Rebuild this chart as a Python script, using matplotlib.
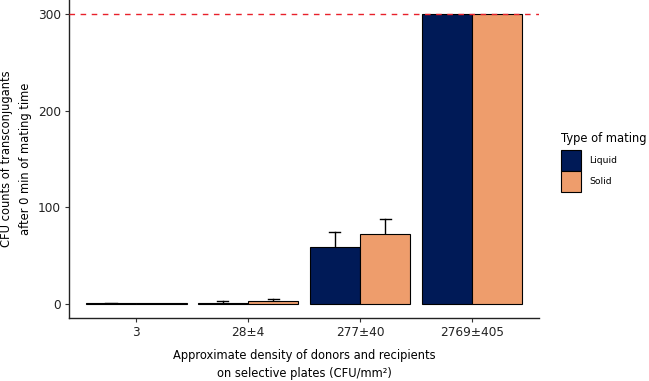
import matplotlib
matplotlib.use("Agg")
import matplotlib.pyplot as plt
import numpy as np

categories = ["3", "28\u00b14", "277\u00b140", "2769\u00b1405"]
series = ["Liquid", "Solid"]
liquid_mean = [0.3, 1.0, 58.8, 300]
liquid_err = [0.5, 1.6, 15.0, 0]
solid_mean = [0.1, 2.5, 72.5, 300]
solid_err = [0.0, 2.0, 15.5, 0]
colors = ["#001A57", "#EE9D6C"]
threshold = 300

plt.rcParams['font.family'] = ['DejaVu Sans']
fig = plt.figure(figsize=(6.49, 3.81), dpi=100)
ax = fig.add_axes([69/649, 1-318/381, (539-69)/649, 318/381])

x = np.arange(1, len(categories) + 1)
w = 0.45
for i, (m, e) in enumerate([(liquid_mean, liquid_err), (solid_mean, solid_err)]):
    xs = x + (i - 0.5) * w
    for xi, mi, ei in zip(xs, m, e):
        if ei > 0:
            ax.plot([xi, xi], [mi, mi + ei], color="black", lw=1.0, zorder=1)
            ax.plot([xi - 0.05, xi + 0.05], [mi + ei, mi + ei], color="black", lw=1.0, zorder=1)
    ax.bar(xs, m, width=w, color=colors[i], edgecolor="black", linewidth=0.8,
           label=series[i], zorder=2)

ax.axhline(threshold, color="#E8202A", linestyle=(0, (4, 4)), lw=1.0, zorder=3)

ax.set_xlim(0.4, 4.6)
ax.set_ylim(-15, 315)
ax.set_xticks(x)
ax.set_xticklabels(categories)
ax.set_yticks([0, 100, 200, 300])
for s in ["top", "right"]:
    ax.spines[s].set_visible(False)
for s in ["left", "bottom"]:
    ax.spines[s].set_color("#222222")
    ax.spines[s].set_linewidth(1.0)
ax.tick_params(axis="both", length=3, width=0.8, color="#333333", labelsize=8.7,
               labelcolor="#222222", pad=3)

ax.set_xlabel("Approximate density of donors and recipients\non selective plates (CFU/mm\u00b2)",
              fontsize=8.3, color="black", labelpad=7, linespacing=1.45)
fig.text(16/649, 1-159/381, "CFU counts of transconjugants\nafter 0 min of mating time",
         rotation=90, ha="center", va="center", multialignment="center",
         fontsize=8.3, color="black", linespacing=1.55)

leg = fig.legend(loc="upper left", bbox_to_anchor=(557/649, 1-128/381),
                 title="Type of mating", frameon=False, fontsize=6.7,
                 title_fontsize=8.3, handlelength=2.18, handleheight=3.06,
                 labelspacing=0.0, handletextpad=0.85, borderaxespad=0)
leg._legend_box.align = "left"
leg._legend_box.sep = 4
for h in leg.legend_handles:
    h.set_linewidth(0.8)

fig.savefig("out.png", dpi=100)
